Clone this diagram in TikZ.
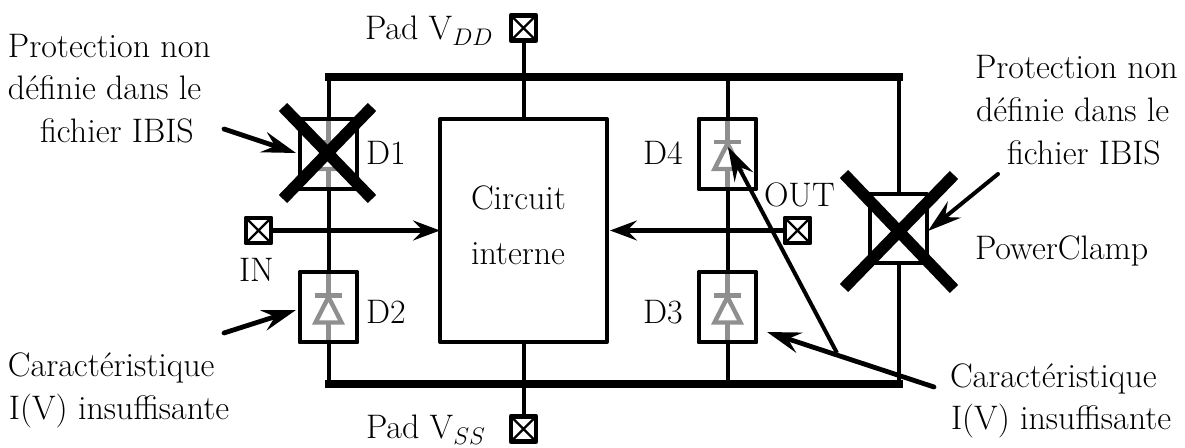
\documentclass[tikz,border=0pt]{standalone}
\usepackage{fontspec}
\usetikzlibrary{arrows.meta}
\tikzset{
  rail/.style={line width=2pt},
  bus/.style={line width=4pt,line cap=rect},
  grayline/.style={line width=2.2pt,draw=diodegray},
  devbox/.style={draw,line width=2pt,line join=round,minimum width=28.5pt,minimum height=35pt,inner sep=0pt,outer sep=0pt},
  clampbox/.style={devbox,minimum height=34.5pt},
  circbox/.style={draw,line width=2pt,line join=round,minimum width=83.5pt,minimum height=111.5pt,inner sep=0pt,outer sep=0pt},
  padbox/.style={draw,line width=2.3pt,line join=round,minimum size=12.6pt,inner sep=0pt,outer sep=0pt,
    path picture={\draw[line width=1.2pt] (path picture bounding box.south west) -- (path picture bounding box.north east)
      (path picture bounding box.north west) -- (path picture bounding box.south east);}},
  txt/.style={anchor=base west,inner sep=0pt,outer sep=0pt,yshift=-0.5pt,font=\fontsize{17}{21}\selectfont},
  sig/.style={line width=2.2pt,-{Stealth[length=13.5pt,width=10pt,inset=5pt]}},
  note/.style={line width=2.4pt,line cap=round,-{Stealth[length=17pt,width=10.5pt,inset=6pt]}},
  notethin/.style={line width=2pt,-{Stealth[length=17pt,width=10.5pt,inset=6pt]}},
  crossbar/.style={line width=5.8pt},
}
\definecolor{diodegray}{gray}{0.56}
\begin{document}
\begin{tikzpicture}[x=0.5pt,y=-0.5pt]
\useasboundingbox (0,0) rectangle (1185,448);
% device boxes
\node[devbox] (d1) at (328.5,154) {};
\node[devbox] (d2) at (328.5,307.5) {};
\node[devbox] (d4) at (727.5,154) {};
\node[devbox] (d3) at (727.5,307.5) {};
\node[clampbox] (clamp) at (898.5,228.5) {};
\node[circbox] (circ) at (523.5,230.5) {};
\node[padbox] (vdd) at (523.5,28) {};
\node[padbox] (vss) at (523.5,429) {};
\node[padbox] (in) at (258.5,230.5) {};
\node[padbox] (out) at (797.5,230.5) {};
% bus end points
\coordinate (tl) at (328.5,77);
\coordinate (tr) at (898.5,77);
\coordinate (bl) at (328.5,384);
\coordinate (br) at (898.5,384);
\coordinate (t4) at (727.5,77);
\coordinate (b3) at (727.5,384);
% rails
\draw[rail] (tl) -- (d1.north);
\draw[rail] (d1.south) -- (d2.north);
\draw[rail] (d2.south) -- (bl);
\draw[rail] (t4) -- (d4.north);
\draw[rail] (d4.south) -- (d3.north);
\draw[rail] (d3.south) -- (b3);
\draw[rail] (tr) -- (clamp.north);
\draw[rail] (clamp.south) -- (br);
\draw[rail] (vdd.south) -- (circ.north);
\draw[rail] (circ.south) -- (vss.north);
\draw[bus] (tl) -- (tr);
\draw[bus] (bl) -- (br);
% diodes
\foreach \n in {d1,d2,d3,d4}{
  \begin{scope}[shift={(\n.center)},grayline]
    \draw (0,-35) -- (0,35);
    \draw (-13.5,-12) -- (13.5,-12);
    \draw[line join=miter,fill=white] (0,-10.5) -- (13,15) -- (-13,15) -- cycle;
    \draw (0,15) -- (0,35);
  \end{scope}
}
\node[devbox] at (d1.center) {};
\node[devbox] at (d2.center) {};
\node[devbox] at (d3.center) {};
\node[devbox] at (d4.center) {};
% signals
\draw[sig] (in.east) -- (circ.west);
\draw[sig,shorten >=1.5pt] (out.west) -- (circ.east);
% crosses
\coordinate (c1a) at (283,107); \coordinate (c1b) at (372,199);
\coordinate (c1c) at (283,199); \coordinate (c1d) at (372,107);
\coordinate (c2a) at (844,174); \coordinate (c2b) at (954,289);
\coordinate (c2c) at (844,288); \coordinate (c2d) at (954,175);
\draw[crossbar] (c1a) -- (c1b);
\draw[crossbar] (c1c) -- (c1d);
\draw[crossbar] (c2a) -- (c2b);
\draw[crossbar] (c2c) -- (c2d);
% annotation arrows
\coordinate (n1s) at (224,129); \coordinate (n1t) at (296,153);
\coordinate (n2s) at (224,333); \coordinate (n2t) at (296,310);
\coordinate (n3s) at (998,174); \coordinate (n3t) at (928,231);
\coordinate (n4s) at (934,387); \coordinate (n4t) at (767,332);
\coordinate (n5s) at (837,353); \coordinate (n5t) at (728,147);
\draw[note] (n1s) -- (n1t);
\draw[note] (n2s) -- (n2t);
\draw[notethin,line cap=round] (n3s) -- (n3t);
\draw[note] (n4s) -- (n4t);
\draw[notethin] (n5s) -- (n5t);
% labels
\node[txt] (t1) at (8,57) {Protection non};
\node[txt] (t2) at (8,99) {définie dans le};
\node[txt] (t3) at (40,142) {fichier IBIS};
\node[txt] (t4a) at (8,376) {Caractéristique};
\node[txt] (t5) at (9,419) {I(V) insuffisante};
\node[txt] (t6) at (975,78) {Protection non};
\node[txt] (t7) at (976,121) {définie dans le};
\node[txt] (t8) at (1007,164) {fichier IBIS};
\node[txt] (t9) at (975,259) {PowerClamp};
\node[txt] (t10) at (950,387) {Caractéristique};
\node[txt] (t11) at (951,429) {I(V) insuffisante};
\node[txt] (l1) at (366,164) {D1};
\node[txt] (l2) at (366,323) {D2};
\node[txt] (l4) at (643,164) {D4};
\node[txt] (l3) at (643,323) {D3};
\node[txt] (lo) at (764,206) {OUT};
\node[txt] (li) at (239,281) {IN};
\node[txt] (lv) at (365,39) {Pad V$_{DD}$};
\node[txt] (ls) at (366,438) {Pad V$_{SS}$};
\node[txt] (c1) at (471,209) {Circuit};
\node[txt] (c2) at (471,264) {interne};
\end{tikzpicture}
\end{document}
